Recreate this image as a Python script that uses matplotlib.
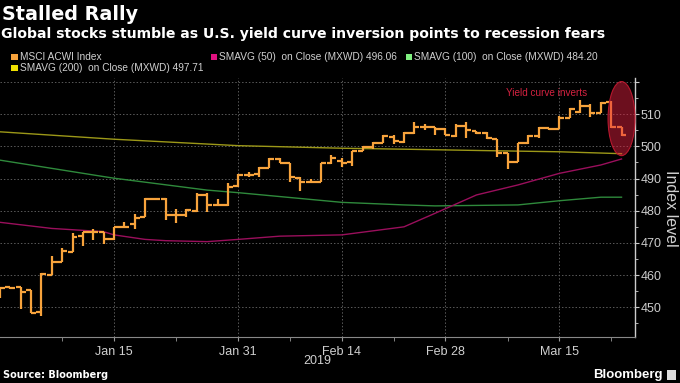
import numpy as np
import pandas as pd
import matplotlib
matplotlib.use("Agg")
import matplotlib.pyplot as plt
from matplotlib.patches import Ellipse, Rectangle
from matplotlib.ticker import FixedLocator

# trading days (weekdays) shown on the chart
dates = pd.bdate_range("2018-12-31", "2019-03-25")

# MSCI ACWI daily bars
opens = [455.9, 456.2, 456.3, 455.3, 448.5, 460.0, 464.2, 467.2, 472.0, 473.3,
         473.3, 471.2, 475.0, 475.9, 478.0, 483.5, 483.7, 478.6, 478.8, 479.8,
         485.0, 481.8, 481.8, 487.7, 491.2, 491.4, 493.3, 496.1, 494.9, 490.2,
         489.0, 489.0, 494.7, 495.5, 495.2, 498.6, 499.9, 501.1, 503.0, 501.4,
         504.2, 505.9, 506.1, 505.3, 503.3, 506.3, 504.8, 504.2, 502.3, 497.8,
         495.2, 500.9, 503.2, 505.6, 505.3, 508.9, 510.7, 512.5, 510.4, 513.9,
         505.9]
highs = [456.0, 456.4, 456.3, 455.3, 460.6, 465.8, 468.3, 473.0, 473.5, 474.3,
         473.5, 475.0, 476.6, 479.0, 483.9, 484.1, 483.9, 480.6, 480.4, 485.4,
         485.4, 483.5, 488.7, 491.4, 492.1, 493.5, 496.3, 496.3, 494.9, 490.4,
         489.9, 494.9, 497.2, 496.3, 498.6, 500.1, 501.4, 503.5, 503.5, 504.5,
         507.6, 506.8, 506.1, 505.6, 506.8, 507.5, 504.9, 504.5, 502.3, 498.0,
         500.9, 503.5, 506.1, 505.6, 509.4, 511.8, 514.4, 513.1, 513.9, 514.1,
         505.9]
lows = [452.8, 455.8, 449.5, 448.1, 447.3, 460.0, 464.2, 467.2, 469.1, 470.9,
        469.6, 471.0, 474.6, 474.3, 478.0, 483.2, 477.1, 476.3, 478.0, 479.6,
        479.7, 481.4, 481.6, 487.5, 490.6, 490.4, 493.3, 494.9, 488.8, 486.2,
        488.8, 488.8, 494.5, 493.5, 493.9, 498.4, 499.1, 501.0, 500.7, 501.1,
        503.8, 505.1, 503.6, 503.6, 503.0, 502.5, 503.8, 502.2, 496.6, 492.9,
        495.2, 500.7, 502.5, 505.0, 505.3, 508.7, 510.4, 509.0, 510.2, 505.6,
        503.3]
closes = [455.9, 455.9, 454.7, 448.3, 460.2, 464.2, 467.4, 471.8, 473.3, 473.3,
          471.2, 475.0, 474.8, 477.6, 483.5, 483.5, 478.6, 478.6, 480.2, 484.8,
          481.8, 481.8, 487.3, 491.2, 491.2, 493.3, 496.1, 494.9, 490.4, 489.0,
          489.0, 494.7, 496.3, 494.9, 498.4, 499.9, 500.9, 503.3, 501.7, 504.2,
          505.9, 505.9, 505.3, 503.6, 506.3, 505.1, 504.2, 502.5, 498.0, 495.2,
          500.9, 503.2, 505.6, 505.3, 508.9, 511.5, 512.5, 510.4, 513.5, 505.9,
          503.5]

# moving averages, read at a few days each
ma50_day = [0, 5, 10, 11, 14, 16, 20, 23, 27, 33, 39, 42, 46, 50, 54, 58, 60]
ma50_val = [476.4, 474.5, 473.5, 472.5, 471.1, 470.7, 470.4, 471.1, 472.1, 472.5,
            475.0, 479.2, 484.9, 488.0, 491.6, 494.2, 496.06]
ma100_day = [0, 10, 11, 20, 23, 33, 39, 42, 50, 54, 58, 60]
ma100_val = [495.7, 490.6, 490.1, 486.4, 485.6, 482.6, 481.8, 481.5, 481.8, 483.1,
             484.2, 484.20]
ma200_day = [0, 11, 23, 33, 39, 48, 54, 60]
ma200_val = [504.5, 502.2, 500.2, 499.4, 499.1, 498.6, 498.3, 497.71]

tick_dates = ["2019-01-15", "2019-01-31", "2019-02-14", "2019-02-28", "2019-03-15"]
tick_labels = ["Jan 15", "Jan 31", "Feb 14", "Feb 28", "Mar 15"]
minor_dates = ["2019-01-08", "2019-01-23", "2019-02-07", "2019-02-21", "2019-03-08", "2019-03-22"]

BG = "black"
TXT = "#d0d0d0"
ORANGE = "#f7a33c"
sans = ["Liberation Sans", "DejaVu Sans"]

fig = plt.figure(figsize=(6.8, 3.83), dpi=100, facecolor=BG)
ax = fig.add_axes([0.0, 0.1193, 0.9338, 0.677])
ax.set_facecolor(BG)

x = np.arange(len(dates))
ax.set_xlim(0, 61.3)
ax.set_ylim(440.7, 521.2)

# grid and ticks
ax.set_yticks(np.arange(450, 521, 10))
ax.set_yticklabels([str(v) for v in range(450, 520, 10)] + [""])
ax.yaxis.set_minor_locator(FixedLocator(np.arange(445, 521, 10)))
major_x = [dates.get_loc(pd.Timestamp(d)) for d in tick_dates]
minor_x = [dates.get_loc(pd.Timestamp(d)) for d in minor_dates]
ax.set_xticks(major_x)
ax.set_xticklabels(tick_labels)
ax.xaxis.set_minor_locator(FixedLocator(minor_x))
ax.grid(True, which="major", color="#5a5a5a", linestyle=(0, (1.5, 2)), linewidth=0.7)

ax.yaxis.tick_right()
ax.tick_params(axis="y", which="both", colors="#cccccc", labelsize=9, length=3, pad=1)
ax.tick_params(axis="y", which="minor", length=2)
ax.tick_params(axis="x", which="both", colors="#999999", labelcolor=TXT, labelsize=9,
               length=3, pad=3)
for lab in ax.get_yticklabels() + ax.get_xticklabels():
    lab.set_family(sans)

for s in ["top", "left"]:
    ax.spines[s].set_visible(False)
ax.spines["right"].set_color("#cccccc")
ax.spines["right"].set_linewidth(1.0)
ax.spines["bottom"].set_color("#888888")
ax.spines["bottom"].set_linewidth(0.8)

# moving averages
ax.plot(ma200_day, ma200_val, color="#9c9818", lw=1.0, zorder=2)
ax.plot(ma100_day, ma100_val, color="#2f8a3c", lw=1.0, zorder=2)
ax.plot(ma50_day, ma50_val, color="#9a0f5c", lw=1.0, zorder=2)

# price bars: high-low line, open tick left, close tick right
ax.vlines(x, lows, highs, color=ORANGE, lw=1.6, zorder=3)
ax.hlines(opens, x - 0.48, x, color=ORANGE, lw=1.6, zorder=3)
ax.hlines(closes, x, x + 0.48, color=ORANGE, lw=1.6, zorder=3)

# yield curve highlight
ax.add_patch(Ellipse((60.0, 508.6), 2.6, 23.0, facecolor="#e82040", alpha=0.47,
                     edgecolor="none", zorder=4, clip_on=False))
ax.add_patch(Ellipse((60.0, 508.6), 2.6, 23.0, facecolor="none", edgecolor="#b8182e",
                     lw=0.8, zorder=4, clip_on=False))
ax.text(52.8, 516.5, "Yield curve inverts", color="#d42240", fontsize=7.2,
        ha="center", va="center", family=sans, zorder=5)

# titles
fig.text(0.003, 1 - 15 / 383, "Stalled Rally", color="white", fontsize=13.8,
         fontweight="bold", va="center", ha="left")
fig.text(0.002, 1 - 34 / 383,
         "Global stocks stumble as U.S. yield curve inversion points to recession fears",
         color="white", fontsize=10.1, fontweight="bold", va="center", ha="left")

# legend
def leg(px, py, col, label):
    fig.patches.append(Rectangle((px / 680, 1 - (py + 3.2) / 383), 6.5 / 680, 6.5 / 383,
                                 transform=fig.transFigure, facecolor=col,
                                 edgecolor="none"))
    fig.text((px + 8.5) / 680, 1 - py / 383, label, color=TXT, fontsize=7.3,
             va="center", ha="left", family=sans)

leg(11, 57, ORANGE, "MSCI ACWI Index")
leg(210.5, 57, "#e0117f", "SMAVG (50)  on Close (MXWD) 496.06")
leg(405.5, 57, "#80f080", "SMAVG (100)  on Close (MXWD) 484.20")
leg(11, 68, "#f0e000", "SMAVG (200)  on Close (MXWD) 497.71")

# axis titles
fig.text(670 / 680, 1 - 208 / 383, "Index level", color=TXT, fontsize=11.5,
         rotation=270, va="center", ha="center", family=sans)
fig.text(317 / 680, 1 - 361 / 383, "2019", color=TXT, fontsize=9,
         va="center", ha="center", family=sans)

# footer
fig.text(0.005, 1 - 375 / 383, "Source: Bloomberg", color="white", fontsize=7.0,
         fontweight="bold", va="center", ha="left")
fig.text(663 / 680, 1 - 375 / 383, "Bloomberg", color="white", fontsize=9.5,
         fontweight="bold", va="center", ha="right", family=sans)
fig.patches.append(Rectangle((667 / 680, 1 - 380 / 383), 9 / 680, 10 / 383,
                             transform=fig.transFigure, facecolor="#dddddd",
                             edgecolor="none"))

fig.savefig("out.png", dpi=100, facecolor=BG)
